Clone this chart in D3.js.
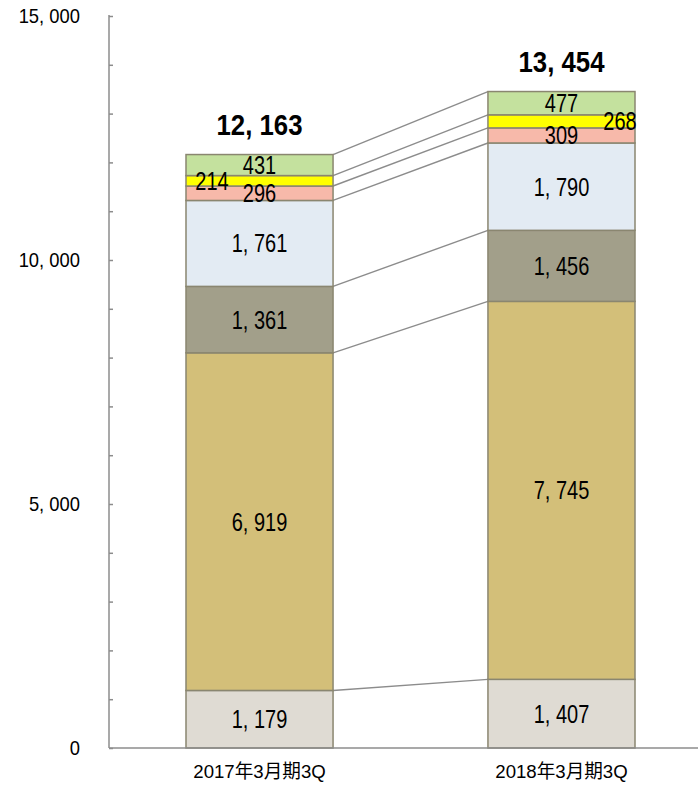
<!DOCTYPE html>
<html>
<head>
<meta charset="utf-8">
<script src="https://cdn.jsdelivr.net/npm/d3@7"></script>
<style>
  body { margin: 0; background: #fff; }
  text { font-family: "Liberation Sans", "Noto Sans CJK JP", sans-serif; }
</style>
</head>
<body>
<div id="main_chart"></div>
<script>
const categories = ["2017年3月期3Q", "2018年3月期3Q"];
const segments = ["s1", "s2", "s3", "s4", "s5", "s6", "s7"];
const values2017 = [1179, 6919, 1361, 1761, 296, 214, 431];
const values2018 = [1407, 7745, 1456, 1790, 309, 268, 477];
const totals = [12163, 13454];
const colors = ["#dfdbd3", "#d3bf79", "#a29f8a", "#e3ebf3", "#f7b9aa", "#ffff00", "#c4e19e"];
const yTicks = [0, 5000, 10000, 15000];

const width = 698;
const height = 785;
const marginTop = 16;
const marginBottom = 37;
const marginLeft = 109;

const xScale = d3.scaleBand()
  .domain(categories)
  .range([marginLeft, 712])
  .paddingInner(0.513)
  .paddingOuter(0.255);

const yScale = d3.scaleLinear()
  .domain([0, 15000])
  .range([height - marginBottom, marginTop]);

const svg = d3.create("svg").attr("width", width).attr("height", height);

// narrow text helper (the source uses a condensed gothic font)
function label(x, y, txt, size, sx, opts = {}) {
  const t = svg.append("text")
    .attr("transform", `translate(${x},${y}) scale(${sx},1)`)
    .attr("text-anchor", opts.anchor || "middle")
    .attr("font-size", size)
    .attr("fill", "#000")
    .attr("xml:space", "preserve")
    .text(txt);
  if (opts.dy) t.attr("dy", opts.dy);
  if (opts.bold) t.attr("font-weight", "bold");
  return t;
}

// stacked data
const rows = [values2017, values2018].map((vals, i) => {
  const r = { cat: categories[i] };
  segments.forEach((s, j) => r[s] = vals[j]);
  return r;
});
const stack = d3.stack().keys(segments)(rows);

// connector lines between tops of segments
stack.forEach((layer) => {
  svg.append("line")
    .attr("x1", xScale(categories[0]) + xScale.bandwidth())
    .attr("x2", xScale(categories[1]))
    .attr("y1", yScale(layer[0][1]))
    .attr("y2", yScale(layer[1][1]))
    .attr("stroke", "#8c8c8c")
    .attr("stroke-width", 1.4);
});

// bars
stack.forEach((layer, j) => {
  svg.append("g")
    .selectAll("rect")
    .data(layer)
    .join("rect")
    .attr("x", (d) => xScale(d.data.cat))
    .attr("y", (d) => yScale(d[1]))
    .attr("width", xScale.bandwidth())
    .attr("height", (d) => yScale(d[0]) - yScale(d[1]))
    .attr("fill", colors[j])
    .attr("stroke", "#8a8670")
    .attr("stroke-width", 1.5);
});

const fmt = (v) => d3.format(",")(v).replace(",", ", ");

// segment labels
stack.forEach((layer, j) => {
  layer.forEach((d, i) => {
    const x0 = xScale(d.data.cat);
    let x = x0 + xScale.bandwidth() / 2;
    if (segments[j] === "s6") {
      x = i === 0 ? x0 + 26 : x0 + xScale.bandwidth() - 15;
    }
    const y = (yScale(d[0]) + yScale(d[1])) / 2;
    label(x, y, fmt(d[1] - d[0]), 25, 0.8, { dy: "0.36em" });
  });
});

// totals
categories.forEach((c, i) => {
  label(xScale(c) + xScale.bandwidth() / 2, yScale(totals[i]) - 19, fmt(totals[i]), 30, 0.86, { bold: true });
});

// y-axis
const yAxis = d3.axisRight(yScale)
  .tickValues(d3.range(0, 15001, 1000))
  .tickSize(4)
  .tickFormat("");
const gy = svg.append("g")
  .attr("transform", `translate(${marginLeft},0)`)
  .call(yAxis);
gy.selectAll("path, line").attr("stroke", "#8c8c8c").attr("stroke-width", 1.5);
gy.select(".domain").attr("d", `M0,${marginTop - 1}V${height - marginBottom}`);

yTicks.forEach((v) => {
  label(80, yScale(v), fmt(v), 20, 0.92, { anchor: "end", dy: "0.36em" });
});

// x-axis
svg.append("line")
  .attr("x1", marginLeft).attr("x2", width)
  .attr("y1", height - marginBottom).attr("y2", height - marginBottom)
  .attr("stroke", "#8c8c8c").attr("stroke-width", 1.5);
categories.forEach((c) => {
  label(xScale(c) + xScale.bandwidth() / 2, height - 7, c, 19, 0.98);
});

document.getElementById("main_chart").append(svg.node());
</script>
</body>
</html>
